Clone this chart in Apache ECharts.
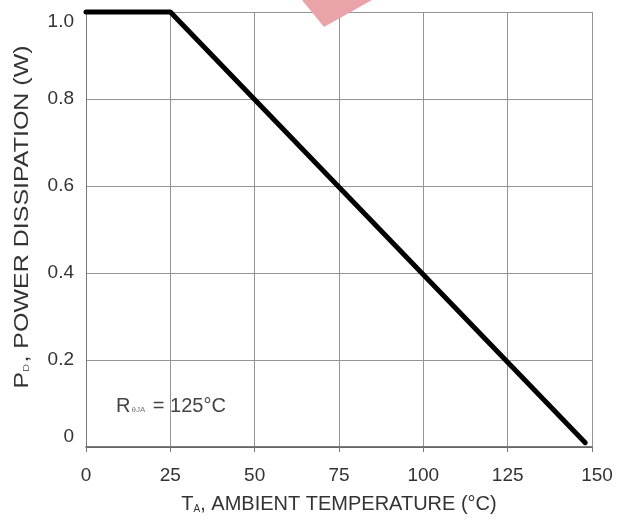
<!DOCTYPE html>
<html>
<head>
<meta charset="utf-8">
<script src="https://cdn.jsdelivr.net/npm/echarts@6/dist/echarts.min.js"></script>
<style>
html,body{margin:0;padding:0;background:#fff;}
#c{width:617px;height:519px;}
</style>
</head>
<body>
<div id="c"></div>
<script>
// Derating curve points: [ambient temperature (°C), power dissipation (W)]
const temps = [0, 25, 148];
const power = [1.0, 1.0, 0.01];
const xTicks = [0, 25, 50, 75, 100, 125, 150];
const yTicks = ['0', '0.2', '0.4', '0.6', '0.8', '1.0'];
const xTitle = ['T', 'A', ', AMBIENT TEMPERATURE (°C)'];
const yTitle = ['P', 'D', ', POWER DISSIPATION (W)'];
const note = ['R', 'θJA', ' = 125°C'];

const FONT = '"Liberation Sans", Arial, Helvetica, sans-serif';
const TXT = '#333';
const chart = echarts.init(document.getElementById('c'), null, {renderer: 'canvas'});

chart.setOption({
  backgroundColor: '#ffffff',
  animation: false,
  grid: {left: 86, right: 25, top: 12, bottom: 70, containLabel: false},
  xAxis: {
    type: 'value',
    min: xTicks[0],
    max: xTicks[xTicks.length - 1],
    interval: 25,
    name: '{m|' + xTitle[0] + '}{s|' + xTitle[1] + '}{m|' + xTitle[2] + '}',
    nameLocation: 'middle',
    nameGap: 47,
    nameTextStyle: {
      rich: {
        m: {fontFamily: FONT, fontSize: 20, color: TXT},
        s: {fontFamily: FONT, fontSize: 10, color: TXT, verticalAlign: 'bottom', padding: [10, 0, 0, 0]}
      }
    },
    axisLine: {show: true, lineStyle: {color: '#555', width: 1.5}},
    axisTick: {show: true, inside: false, length: 5, lineStyle: {color: '#777'}},
    axisLabel: {
      fontFamily: FONT, fontSize: 19, color: TXT, margin: 19,
      formatter: function (v) {
        return v === 150 ? '{r|' + v + '}' : String(v);
      },
      rich: {
        r: {fontFamily: FONT, fontSize: 19, color: TXT, padding: [0, 0, 0, 10]}
      }
    },
    splitLine: {show: true, lineStyle: {color: '#949494', width: 1}}
  },
  yAxis: {
    type: 'value',
    min: 0,
    max: 1.0,
    interval: 0.2,
    axisLine: {show: true, lineStyle: {color: '#777', width: 1}},
    axisTick: {show: false},
    axisLabel: {
      fontFamily: FONT, fontSize: 19, color: TXT, margin: 12,
      formatter: function (v) {
        const i = Math.round(v / 0.2);
        if (i === 5) return '{t|' + yTicks[i] + '}';
        if (i === 0) return '{b|' + yTicks[i] + '}';
        return yTicks[i];
      },
      rich: {
        t: {fontFamily: FONT, fontSize: 19, color: TXT, padding: [20, 0, 0, 0]},
        b: {fontFamily: FONT, fontSize: 19, color: TXT, padding: [0, 0, 20, 0]}
      }
    },
    splitLine: {show: true, lineStyle: {color: '#949494', width: 1}}
  },
  series: [{
    type: 'line',
    data: temps.map((t, i) => [t, power[i]]),
    showSymbol: false,
    lineStyle: {color: '#000', width: 5, cap: 'round', join: 'round'},
    clip: false
  }],
  graphic: [
    {
      type: 'polygon',
      shape: {points: [[302, 0], [372, 0], [324, 27]]},
      style: {fill: '#eba3aa'},
      z: 10
    },
    {
      type: 'text',
      x: 22,
      y: 217,
      rotation: Math.PI / 2,
      scaleX: 1.25,
      style: {
        text: '{m|' + yTitle[0] + '}{s|' + yTitle[1] + '}{m|' + yTitle[2] + '}',
        align: 'center',
        verticalAlign: 'middle',
        rich: {
          m: {fontFamily: FONT, fontSize: 20, fill: TXT},
          s: {fontFamily: FONT, fontSize: 9, fill: '#666', padding: [10, 1, 0, 0]}
        }
      },
      z: 10
    },
    {
      type: 'text',
      x: 116,
      y: 406,
      style: {
        text: '{m|' + note[0] + '}{s|' + note[1] + '}{m|' + note[2] + '}',
        verticalAlign: 'middle',
        rich: {
          m: {fontFamily: FONT, fontSize: 20, fill: '#444'},
          s: {fontFamily: FONT, fontSize: 8, fill: '#777', padding: [8, 2, 0, 1]}
        }
      },
      z: 10
    }
  ]
});
</script>
</body>
</html>
